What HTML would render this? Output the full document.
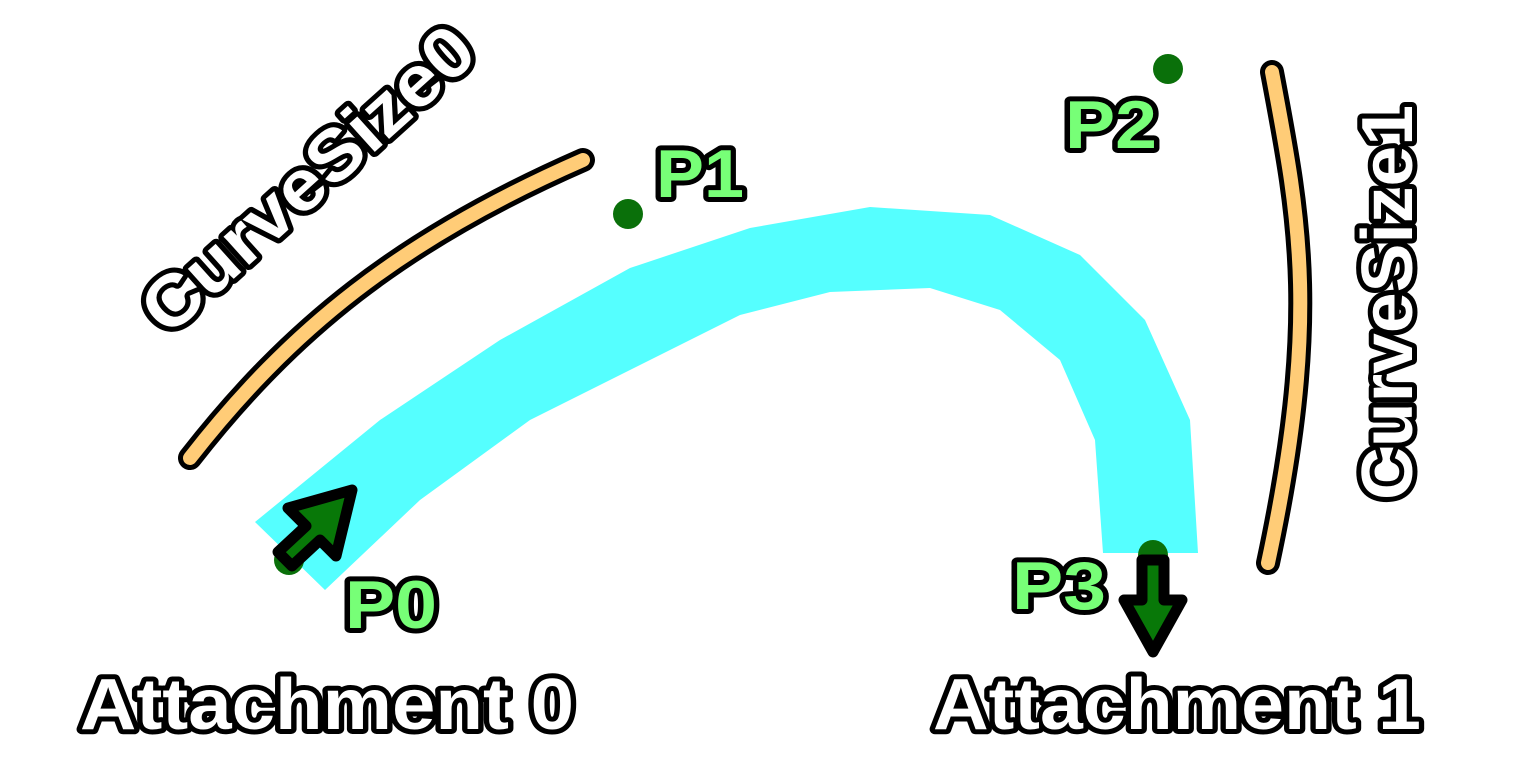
<!DOCTYPE html>
<html><head><style>html,body{margin:0;padding:0;background:#fff}svg{display:block}</style></head>
<body>
<svg width="1514" height="779" viewBox="0 0 1514 779" xmlns="http://www.w3.org/2000/svg">
<rect width="1514" height="779" fill="#fff"/>
<polygon fill="#55ffff" points="255,522 380,420 500,340 630,268 750,228 870,207 990,215 1080,255 1145,320 1190,420 1198,553 1103,553 1095,440 1060,360 1000,310 930,288 830,292 740,315 650,360 530,420 420,500 325,590"/>
<g fill="none" stroke-linecap="round">
<path d="M190,458 C290,330 400,240 583,160" stroke="#000" stroke-width="24"/>
<path d="M190,458 C290,330 400,240 583,160" stroke="#ffcc77" stroke-width="14"/>
<path d="M1272,72 C1300,220 1320,320 1268,563" stroke="#000" stroke-width="24"/>
<path d="M1272,72 C1300,220 1320,320 1268,563" stroke="#ffcc77" stroke-width="14"/>
</g>
<g fill="#0a700a">
<circle cx="628" cy="214" r="15"/><circle cx="1168" cy="69" r="15"/>
<circle cx="289" cy="560" r="15"/><circle cx="1153" cy="555" r="15"/>
</g>
<g fill="#087808" stroke="#000" stroke-width="11" stroke-linejoin="round">
<polygon points="352,490 288,508 306,526 278,552 292,566 320,540 336,556"/>
<polygon points="1142,560 1164,560 1164,600 1182,600 1153,652 1124,600 1142,600"/>
</g>
<g font-family="'Liberation Sans',sans-serif" font-weight="bold" stroke="#000" stroke-width="10" stroke-linejoin="round" paint-order="stroke">
<g fill="#77ff77" font-size="68">
<text x="345" y="628" textLength="92" lengthAdjust="spacingAndGlyphs">P0</text>
<text x="656" y="197" textLength="88" lengthAdjust="spacingAndGlyphs">P1</text>
<text x="1065" y="148" textLength="92" lengthAdjust="spacingAndGlyphs">P2</text>
<text x="1012" y="609" textLength="94" lengthAdjust="spacingAndGlyphs">P3</text>
</g>
<g fill="#fff" font-size="72">
<text x="80" y="729" textLength="494" lengthAdjust="spacingAndGlyphs">Attachment 0</text>
<text x="933" y="729" textLength="488" lengthAdjust="spacingAndGlyphs">Attachment 1</text>
<text transform="translate(168,338) rotate(-42)" x="0" y="0" textLength="420" lengthAdjust="spacingAndGlyphs">CurveSize0</text>
<text transform="translate(1412,500) rotate(-90)" x="0" y="0" textLength="395" lengthAdjust="spacingAndGlyphs">CurveSize1</text>
</g>
</g>
</svg>
</body></html>
